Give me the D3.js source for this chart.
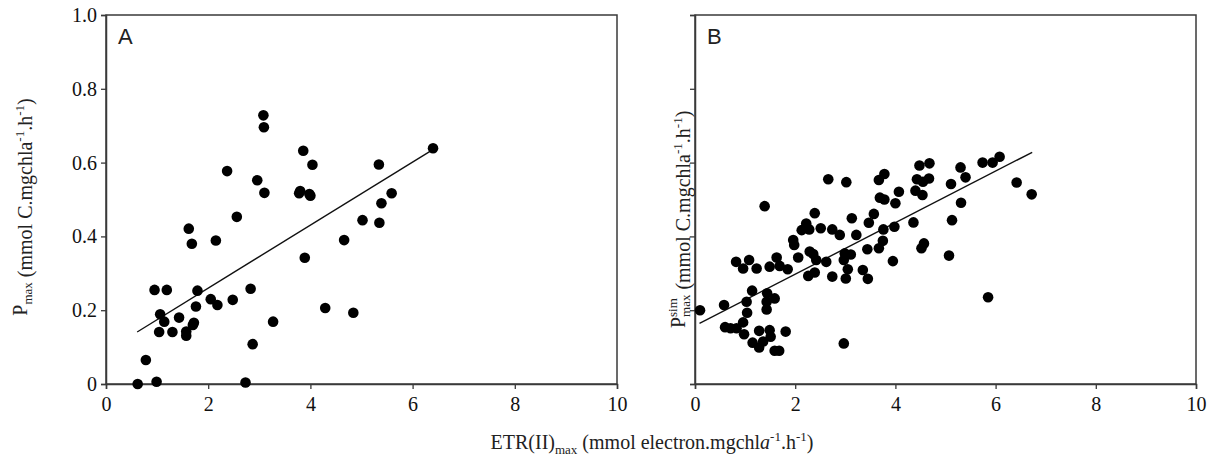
<!DOCTYPE html>
<html>
<head>
<meta charset="utf-8">
<script src="https://cdn.jsdelivr.net/npm/d3@7"></script>
<style>
  body { margin: 0; background: #fff; }
  svg { display: block; }
</style>
</head>
<body>
<svg id="viz" width="1218" height="464"></svg>
<script>
// panel A : Pmax vs ETR(II)max
const etrA = [0.62, 0.78, 0.99, 0.95, 1.19, 1.06, 1.14, 1.04, 1.30, 1.43, 1.57, 1.57, 1.70, 1.72, 1.76, 1.79,
  1.62, 1.68, 2.05, 2.18, 2.15, 2.48, 2.56, 2.83, 2.87, 2.73, 3.27, 3.10, 3.78, 3.98, 3.89, 4.29, 4.66, 4.84,
  5.02, 5.35, 5.39, 5.59, 2.37, 3.08, 3.09, 2.96, 3.86, 4.04, 3.80, 4.00, 5.34, 6.40];
const pmaxA = [0.0, 0.065, 0.006, 0.255, 0.255, 0.189, 0.169, 0.141, 0.141, 0.18, 0.142, 0.131, 0.16, 0.166, 0.21, 0.253,
  0.421, 0.38, 0.23, 0.214, 0.389, 0.228, 0.453, 0.258, 0.108, 0.004, 0.169, 0.518, 0.517, 0.515, 0.342, 0.206, 0.39, 0.193,
  0.444, 0.437, 0.49, 0.517, 0.577, 0.728, 0.696, 0.552, 0.632, 0.594, 0.523, 0.51, 0.595, 0.639];
const fitA = [[0.61, 0.141], [6.38, 0.634]];

// panel B : simulated Pmax vs ETR(II)max
const etrB = [0.10, 0.58, 1.14, 1.03, 1.04, 0.96, 0.60, 0.71, 0.83, 0.98, 1.15, 1.28, 1.36, 1.28, 1.49, 1.51, 1.59, 1.68,
  1.81, 1.44, 1.43, 1.43, 1.59, 2.26,
  2.66, 3.02, 1.39, 3.78, 3.67, 3.69, 3.78, 4.00, 4.07, 2.39, 3.13, 3.57, 3.47, 2.22, 2.13, 2.28, 2.51, 2.74, 2.89, 3.22,
  3.76, 3.98, 3.75, 3.67, 3.44, 1.96, 1.98, 2.06, 2.29, 2.36, 2.42, 2.62, 2.99, 3.11, 2.97, 3.05, 3.35, 3.95, 3.45, 3.01,
  2.74, 2.39, 1.63, 1.49, 1.69, 1.85, 1.08, 0.96, 1.23, 0.82,
  4.48, 4.68, 4.43, 4.55, 4.67, 4.40, 4.54, 5.30, 5.40, 5.11, 5.74, 5.94, 6.08, 6.42, 6.72, 5.31, 5.13, 4.36, 4.57, 4.52,
  5.07, 5.85, 2.97];
const pmaxB = [0.20, 0.214, 0.253, 0.223, 0.193, 0.167, 0.154, 0.151, 0.151, 0.135, 0.112, 0.099, 0.115, 0.144, 0.146, 0.128, 0.09, 0.09,
  0.142, 0.246, 0.223, 0.202, 0.232, 0.293,
  0.555, 0.547, 0.482, 0.569, 0.553, 0.505, 0.50, 0.49, 0.521, 0.463, 0.449, 0.461, 0.437, 0.435, 0.417, 0.419, 0.422, 0.419, 0.404, 0.404,
  0.419, 0.426, 0.388, 0.368, 0.365, 0.39, 0.377, 0.343, 0.359, 0.352, 0.336, 0.331, 0.354, 0.351, 0.336, 0.311, 0.309, 0.333, 0.285, 0.286,
  0.291, 0.302, 0.343, 0.318, 0.32, 0.311, 0.336, 0.313, 0.313, 0.331,
  0.592, 0.598, 0.555, 0.548, 0.557, 0.524, 0.512, 0.587, 0.56, 0.542, 0.60, 0.60, 0.616, 0.546, 0.514, 0.491, 0.444, 0.438, 0.381, 0.368,
  0.348, 0.235, 0.11];
const fitB = [[0.09, 0.164], [6.73, 0.628]];

const xTicks = [0, 2, 4, 6, 8, 10];
const yTicks = [0, 0.2, 0.4, 0.6, 0.8, 1.0];

const serif = 'Liberation Serif, Times New Roman, serif';
const svg = d3.select('#viz');
const plotTop = 15, plotBottom = 384;

function panel(x0, x1, xs, ys, fit, letter, showYLabels) {
  const x = d3.scaleLinear().domain([0, 10]).range([x0, x1]);
  const y = d3.scaleLinear().domain([0, 1]).range([plotBottom, plotTop]);
  const g = svg.append('g');

  // frame
  g.append('rect')
    .attr('x', x0).attr('y', plotTop)
    .attr('width', x1 - x0).attr('height', plotBottom - plotTop)
    .attr('fill', 'none').attr('stroke', '#3a3a3a').attr('stroke-width', 1.5);

  const xAxis = g.append('g')
    .attr('transform', 'translate(0,' + plotBottom + ')')
    .call(d3.axisBottom(x).tickValues(xTicks).tickSize(5).tickPadding(8).tickFormat(d3.format('d')));
  const yAxis = g.append('g')
    .attr('transform', 'translate(' + x0 + ',0)')
    .call(d3.axisLeft(y).tickValues(yTicks).tickSize(5).tickPadding(4)
      .tickFormat(showYLabels ? (d => d === 0 ? '0' : d3.format('.1f')(d)) : () => ''));
  [xAxis, yAxis].forEach(a => {
    a.attr('font-family', serif).attr('font-size', 20);
    a.select('.domain').attr('stroke', '#3a3a3a').attr('stroke-width', 1.5);
    a.selectAll('.tick line').attr('stroke', '#3a3a3a').attr('stroke-width', 1.3);
    a.selectAll('.tick text').attr('fill', '#111');
  });

  // regression line
  g.append('line')
    .attr('x1', x(fit[0][0])).attr('y1', y(fit[0][1]))
    .attr('x2', x(fit[1][0])).attr('y2', y(fit[1][1]))
    .attr('stroke', '#111').attr('stroke-width', 1.4);

  g.append('g')
    .selectAll('circle')
    .data(xs.map((v, i) => [v, ys[i]]))
    .join('circle')
    .attr('cx', d => x(d[0]))
    .attr('cy', d => y(d[1]))
    .attr('r', 5.3)
    .attr('fill', '#000');

  g.append('text')
    .attr('x', x0 + 12).attr('y', plotTop + 29)
    .attr('font-family', 'Liberation Sans, sans-serif')
    .attr('font-size', 22)
    .attr('fill', '#222')
    .text(letter);
}

panel(106, 617, etrA, pmaxA, fitA, 'A', true);
panel(695, 1196, etrB, pmaxB, fitB, 'B', false);

// unit part of y labels
function unitPart(t) {
  t.append('tspan').text(' (mmol C.mgchla');
  t.append('tspan').attr('dy', -8).attr('font-size', 13).text('-1');
  t.append('tspan').attr('dy', 8).text('.h');
  t.append('tspan').attr('dy', -8).attr('font-size', 13).text('-1');
  t.append('tspan').attr('dy', 8).text(')');
}

// place a label so that its middle sits at (cx, cy); rotated labels run bottom to top
function centre(t, cx, cy, rotated) {
  const w = t.node().getComputedTextLength();
  if (rotated) t.attr('transform', 'translate(' + cx + ',' + (cy + w / 2) + ') rotate(-90)');
  else t.attr('transform', 'translate(' + (cx - w / 2) + ',' + cy + ')');
}

const yLabA = svg.append('text')
  .attr('font-family', serif)
  .attr('font-size', 20)
  .attr('fill', '#222');
yLabA.append('tspan').text('P');
yLabA.append('tspan').attr('dy', 5).attr('font-size', 13).text('max');
yLabA.append('tspan').attr('dy', -5).text('');
unitPart(yLabA);
centre(yLabA, 27, 207, true);

const yLabB = svg.append('text')
  .attr('font-family', serif)
  .attr('font-size', 20)
  .attr('fill', '#222');
yLabB.append('tspan').text('P');
const sim = yLabB.append('tspan').attr('dy', -8).attr('font-size', 13).text('sim');
const simW = sim.node().getComputedTextLength();
yLabB.append('tspan').attr('dx', -simW).attr('dy', 13).attr('font-size', 13).text('max');
yLabB.append('tspan').attr('dy', -5).text('');
unitPart(yLabB);
centre(yLabB, 685, 210, true);

// x label
const xLab = svg.append('text')
  .attr('font-family', serif)
  .attr('font-size', 20)
  .attr('fill', '#222');
xLab.append('tspan').text('ETR(II)');
xLab.append('tspan').attr('dy', 5).attr('font-size', 13).text('max');
xLab.append('tspan').attr('dy', -5).text(' (mmol electron.mgchl');
xLab.append('tspan').attr('font-style', 'italic').text('a');
xLab.append('tspan').attr('dy', -8).attr('font-size', 13).text('-1');
xLab.append('tspan').attr('dy', 8).text('.h');
xLab.append('tspan').attr('dy', -8).attr('font-size', 13).text('-1');
xLab.append('tspan').attr('dy', 8).text(')');
centre(xLab, 652, 449, false);
</script>
</body>
</html>
